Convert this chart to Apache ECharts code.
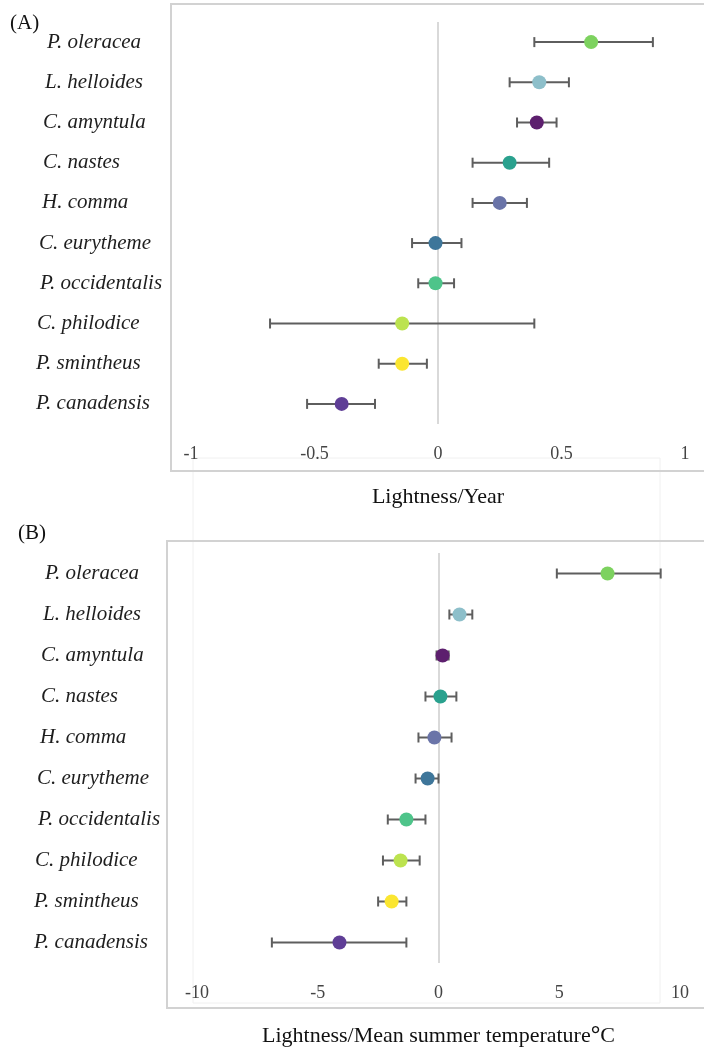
<!DOCTYPE html>
<html>
<head>
<meta charset="utf-8">
<title>Lightness trends by species</title>
<script src="https://cdn.jsdelivr.net/npm/echarts@6/dist/echarts.min.js"></script>
<style>
  html, body { margin: 0; padding: 0; background: #fff; }
  #chart { width: 704px; height: 1050px; }
</style>
</head>
<body>
<div id="chart"></div>
<script>
// Species, top to bottom
const species = [
  'P. oleracea', 'L. helloides', 'C. amyntula', 'C. nastes', 'H. comma',
  'C. eurytheme', 'P. occidentalis', 'C. philodice', 'P. smintheus', 'P. canadensis'
];

// Marker colour per species
const speciesColors = [
  '#7dd25f', '#8dbfca', '#5d1f6e', '#2aa18e', '#6a74a8',
  '#3e769a', '#4ec48a', '#bce34f', '#fbe631', '#5f3e96'
];

// (A) lightness change per year: estimate and interval bounds
const yearMean = [0.62, 0.41, 0.40, 0.29, 0.25, -0.01, -0.01, -0.145, -0.145, -0.39];
const yearLow  = [0.39, 0.29, 0.32, 0.14, 0.14, -0.105, -0.08, -0.68, -0.24, -0.53];
const yearHigh = [0.87, 0.53, 0.48, 0.45, 0.36, 0.095, 0.065, 0.39, -0.045, -0.255];

// (B) lightness change per degree of mean summer temperature
const tempMean = [7.0, 0.87, 0.17, 0.08, -0.17, -0.45, -1.33, -1.57, -1.94, -4.1];
const tempLow  = [4.9, 0.45, -0.08, -0.54, -0.83, -0.95, -2.1, -2.3, -2.5, -6.9];
const tempHigh = [9.2, 1.4, 0.42, 0.74, 0.54, 0.0, -0.54, -0.78, -1.33, -1.33];

// Axis tick values
const yearTicks = [-1, -0.5, 0, 0.5, 1];
const tempTicks = [-10, -5, 0, 5, 10];

// Species names drift slightly leftwards going down the list
const labelIndent = [11, 9, 7, 7, 6, 3, 4, 1, 0, 0];

const serif = '"Liberation Serif", "DejaVu Serif", serif';

function errorBarSeries(gridIdx, low, high) {
  return {
    type: 'custom',
    xAxisIndex: gridIdx,
    yAxisIndex: gridIdx,
    data: low.map((v, i) => [i, v, high[i]]),
    encode: { x: [1, 2], y: 0 },
    z: 2,
    silent: true,
    renderItem: function (params, api) {
      const idx = api.value(0);
      const a = api.coord([api.value(1), idx]);
      const b = api.coord([api.value(2), idx]);
      const cap = 5;
      const style = { stroke: '#5e5e5e', lineWidth: 2 };
      return {
        type: 'group',
        children: [
          { type: 'line', shape: { x1: a[0], y1: a[1], x2: b[0], y2: b[1] }, style: style },
          { type: 'line', shape: { x1: a[0], y1: a[1] - cap, x2: a[0], y2: a[1] + cap }, style: style },
          { type: 'line', shape: { x1: b[0], y1: b[1] - cap, x2: b[0], y2: b[1] + cap }, style: style }
        ]
      };
    }
  };
}

function pointSeries(gridIdx, mean) {
  return {
    type: 'scatter',
    xAxisIndex: gridIdx,
    yAxisIndex: gridIdx,
    symbol: 'circle',
    symbolSize: 14,
    z: 3,
    data: mean.map((v, i) => ({ value: [v, i], itemStyle: { color: speciesColors[i], opacity: 1 } })),
    markLine: {
      silent: true,
      symbol: 'none',
      label: { show: false },
      lineStyle: { color: '#d9d9d9', width: 2, type: 'solid' },
      data: [{ xAxis: 0 }],
      z: 1
    }
  };
}

function categoryAxis(gridIdx, margin) {
  const rich = {};
  labelIndent.forEach((p, i) => {
    rich['r' + i] = {
      fontFamily: serif, fontStyle: 'italic', fontSize: 21, color: '#1e1e1e',
      padding: [0, 0, 0, p]
    };
  });
  return {
    type: 'category',
    gridIndex: gridIdx,
    data: species,
    inverse: true,
    axisLine: { show: false },
    axisTick: { show: false },
    splitLine: { show: false },
    axisLabel: {
      align: 'left',
      margin: margin,
      fontFamily: serif,
      fontStyle: 'italic',
      fontSize: 21,
      color: '#1e1e1e',
      formatter: (value, index) => '{r' + index + '|' + value + '}',
      rich: rich
    }
  };
}

function valueAxis(gridIdx, ticks, name, nameGap) {
  return {
    type: 'value',
    gridIndex: gridIdx,
    min: ticks[0],
    max: ticks[ticks.length - 1],
    interval: ticks[1] - ticks[0],
    axisLine: { show: false },
    axisTick: { show: false },
    splitLine: { show: false },
    axisLabel: { margin: 21, fontFamily: serif, fontSize: 18, color: '#444' },
    name: name,
    nameLocation: 'middle',
    nameGap: nameGap,
    nameTextStyle: {
      fontFamily: serif,
      fontSize: 22,
      color: '#111',
      rich: { deg: { fontFamily: serif, fontSize: 24, fontWeight: 'bold', color: '#111' } }
    }
  };
}

const chart = echarts.init(document.getElementById('chart'), null, { renderer: 'canvas' });

chart.setOption({
  backgroundColor: '#fff',
  animation: false,
  grid: [
    { left: 191, width: 494, top: 22, height: 402 },
    { left: 197, width: 483, top: 553, height: 410 }
  ],
  xAxis: [
    valueAxis(0, yearTicks, 'Lightness/Year', 62),
    valueAxis(1, tempTicks, 'Lightness/Mean summer temperature{deg|°}C', 61)
  ],
  yAxis: [
    categoryAxis(0, 191 - 36),
    categoryAxis(1, 197 - 34)
  ],
  graphic: [
    // faint frame behind the panels
    { type: 'rect', z: -2, silent: true,
      shape: { x: 193, y: 458, width: 467, height: 545 },
      style: { fill: 'none', stroke: '#f0f0f0', lineWidth: 1 } },
    // panel frames
    { type: 'rect', z: -1, silent: true,
      shape: { x: 171, y: 4, width: 560, height: 467 },
      style: { fill: 'none', stroke: '#d2d2d2', lineWidth: 2 } },
    { type: 'rect', z: -1, silent: true,
      shape: { x: 167, y: 541, width: 560, height: 467 },
      style: { fill: 'none', stroke: '#d2d2d2', lineWidth: 2 } },
    // panel letters
    { type: 'text', left: 10, top: 13,
      style: { text: '(A)', font: '21px ' + serif, fill: '#111' } },
    { type: 'text', left: 18, top: 523,
      style: { text: '(B)', font: '21px ' + serif, fill: '#111' } }
  ],
  series: [
    errorBarSeries(0, yearLow, yearHigh),
    pointSeries(0, yearMean),
    errorBarSeries(1, tempLow, tempHigh),
    pointSeries(1, tempMean)
  ]
});
</script>
</body>
</html>
